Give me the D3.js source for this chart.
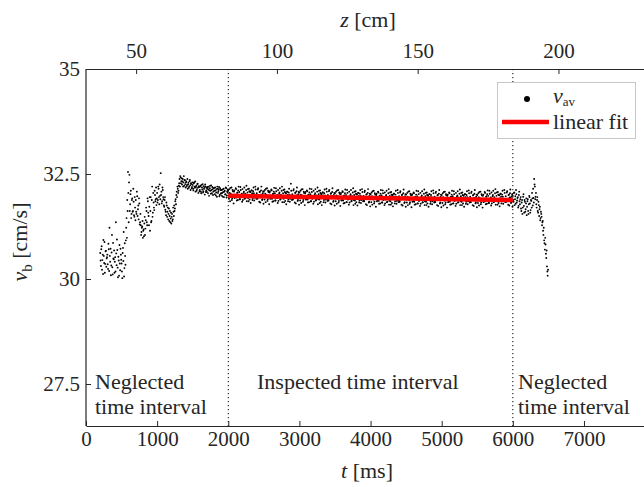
<!DOCTYPE html>
<html>
<head>
<meta charset="utf-8">
<script src="https://cdn.jsdelivr.net/npm/d3@7"></script>
<style>
  body { margin: 0; background: #fff; }
</style>
</head>
<body>
<svg id="chart" width="644" height="487"></svg>
<script>
// sampling times of the measurement (two interleaved sample sets, 10 ms apart each)
const tSample = d3.range(200, 6500, 10);
const tSample2 = d3.range(205, 6500, 10);
// measured bubble velocity v_av [cm/s], one row = 100 ms
const vAv = [
  30.62, 30.31, 30.78, 30.45, 30.12, 30.55, 30.88, 30.36, 30.67, 30.49,
  30.58, 30.24, 30.71, 31.22, 30.41, 30.09, 30.63, 30.28, 30.86, 30.47,
  30.15, 30.52, 31.35, 30.33, 30.69, 30.04, 30.44, 30.81, 30.21, 30.58,
  30.37, 30.02, 30.74, 31.12, 30.26, 30.55, 30.92, 31.45, 31.88, 32.55,
  31.35, 32.48, 31.78, 32.1, 31.55, 31.92, 31.62, 31.84, 31.48, 31.7,
  31.88, 31.55, 31.97, 31.66, 31.42, 31.8, 31.35, 31.28, 31.12, 31.25,
  30.98, 31.18, 31.32, 31.05, 31.4, 31.62, 31.28, 31.85, 31.5, 31.72,
  31.15, 31.95, 31.38, 32.2, 31.58, 31.82, 31.64, 32.0, 31.9, 31.76,
  32.05, 31.88, 32.15, 31.78, 31.98, 32.52, 32.08, 31.85, 32.12, 31.9,
  31.72, 31.95, 31.6, 31.82, 31.48, 31.7, 31.55, 31.38, 31.62, 31.44,
  31.32, 31.55, 31.42, 31.6, 31.75, 31.68, 31.9, 32.0, 31.95, 32.15,
  32.1, 32.28, 32.2, 32.42, 32.33, 32.25, 32.38, 32.3, 32.22, 32.35,
  32.18, 32.32, 32.24, 32.15, 32.29, 32.2, 32.36, 32.12, 32.26, 32.19,
  32.24, 32.11, 32.3, 32.17, 32.08, 32.22, 32.14, 32.27, 32.05, 32.19,
  32.12, 32.22, 32.04, 32.18, 32.26, 32.09, 32.15, 32.01, 32.2, 32.11,
  32.07, 32.19, 32.13, 31.98, 32.16, 32.1, 32.23, 32.04, 32.14, 32.08,
  32.17, 32.02, 32.11, 32.06, 31.96, 32.15, 32.09, 32.19, 32.0, 32.12,
  32.04, 31.98, 32.13, 32.07, 31.95, 32.1, 32.02, 32.16, 31.99, 32.06,
  32.10, 31.91, 32.05, 32.17, 31.97, 31.88, 32.12, 32.00, 32.08, 31.93,
  31.95, 32.14, 31.87, 32.06, 32.11, 31.99, 31.90, 32.19, 31.96, 32.03,
  32.14, 31.97, 32.08, 31.91, 32.03, 32.12, 31.85, 32.06, 31.93, 32.15,
  31.89, 32.07, 32.00, 32.11, 31.88, 32.09, 32.04, 31.94, 32.20, 31.96,
  32.04, 31.91, 32.16, 31.97, 32.07, 31.82, 32.11, 32.01, 31.90, 32.09,
  32.08, 31.89, 32.03, 32.15, 31.95, 31.86, 32.10, 31.98, 32.06, 31.91,
  31.92, 32.11, 31.84, 32.03, 32.08, 31.96, 31.87, 32.16, 31.93, 32.00,
  32.12, 31.95, 32.06, 31.89, 32.01, 32.10, 31.83, 32.04, 31.91, 32.13,
  31.86, 32.04, 31.97, 32.08, 31.85, 32.06, 32.01, 31.91, 32.27, 31.93,
  32.02, 31.89, 32.14, 31.95, 32.05, 31.80, 32.09, 31.99, 31.88, 32.07,
  32.06, 31.87, 32.01, 32.13, 31.93, 31.84, 32.08, 31.96, 32.04, 31.89,
  31.90, 32.09, 31.82, 32.01, 32.06, 31.94, 31.85, 32.14, 31.91, 31.98,
  32.10, 31.93, 32.04, 31.87, 31.99, 32.08, 31.78, 32.02, 31.89, 32.11,
  31.84, 32.02, 31.95, 32.06, 31.83, 32.04, 31.99, 31.89, 32.15, 31.91,
  32.00, 31.87, 32.12, 31.93, 32.03, 31.78, 32.07, 31.97, 31.86, 32.05,
  32.04, 31.85, 31.99, 32.11, 31.91, 31.82, 32.06, 31.94, 32.02, 31.87,
  31.88, 32.07, 31.80, 31.99, 32.04, 31.92, 31.83, 32.12, 31.89, 31.96,
  32.08, 31.91, 32.02, 31.85, 31.97, 32.06, 31.76, 32.00, 31.87, 32.09,
  31.83, 32.01, 31.94, 32.05, 31.82, 32.03, 31.98, 31.88, 32.14, 31.90,
  31.98, 31.85, 32.10, 31.91, 32.01, 31.76, 32.05, 31.95, 31.84, 32.03,
  32.02, 31.83, 31.97, 32.09, 31.89, 31.80, 32.04, 31.92, 32.00, 31.85,
  31.87, 32.06, 31.79, 31.98, 32.03, 31.91, 31.82, 32.11, 31.88, 31.95,
  32.06, 31.89, 32.00, 31.83, 31.95, 32.04, 31.77, 31.98, 31.85, 32.07,
  31.81, 31.99, 31.92, 32.03, 31.80, 32.01, 31.96, 31.86, 32.12, 31.88,
  31.97, 31.84, 32.09, 31.90, 32.00, 31.75, 32.04, 31.94, 31.83, 32.02,
  32.01, 31.82, 31.96, 32.08, 31.88, 31.79, 32.03, 31.91, 31.99, 31.84,
  31.85, 32.04, 31.77, 31.96, 32.01, 31.89, 31.80, 32.09, 31.86, 31.93,
  32.05, 31.88, 31.99, 31.82, 31.94, 32.03, 31.76, 31.97, 31.84, 32.06,
  31.80, 31.98, 31.91, 32.02, 31.79, 32.00, 31.95, 31.85, 32.11, 31.87,
  31.96, 31.83, 32.08, 31.89, 31.99, 31.74, 32.03, 31.93, 31.82, 32.01,
  32.00, 31.81, 31.95, 32.07, 31.87, 31.78, 32.02, 31.90, 31.98, 31.83,
  31.85, 32.04, 31.77, 31.96, 32.01, 31.89, 31.80, 32.09, 31.86, 31.93,
  32.05, 31.88, 31.99, 31.82, 31.94, 32.03, 31.76, 31.97, 31.84, 32.06,
  31.80, 31.98, 31.91, 32.02, 31.79, 32.00, 31.95, 31.85, 32.11, 31.87,
  31.96, 31.83, 32.08, 31.89, 31.99, 31.74, 32.03, 31.93, 31.82, 32.01,
  32.00, 31.81, 31.95, 32.07, 31.87, 31.78, 32.02, 31.90, 31.98, 31.83,
  31.86, 32.05, 31.78, 31.97, 32.02, 31.90, 31.81, 32.10, 31.87, 31.94,
  32.06, 31.89, 32.00, 31.83, 31.95, 32.04, 31.77, 31.98, 31.85, 32.07,
  31.81, 31.99, 31.92, 32.03, 31.80, 32.01, 31.96, 31.86, 32.12, 31.88,
  31.97, 31.84, 32.09, 31.90, 32.00, 31.75, 32.04, 31.94, 31.83, 32.02,
  31.98, 31.84, 32.06, 31.90, 31.79, 32.02, 31.87, 31.95, 31.74, 32.08,
  31.78, 31.95, 31.62, 31.88, 31.70, 32.02, 31.58, 31.84, 31.66, 31.92,
  31.72, 31.90, 31.55, 31.98, 31.80, 31.64, 31.86, 32.05, 31.75, 31.93,
  32.38, 32.2, 31.96, 31.78, 31.88, 31.62, 31.84, 31.5, 31.72, 31.45,
  31.55, 31.28, 31.38, 31.05, 30.92, 30.7, 30.82, 30.5, 30.3, 30.08
];
const vAv2 = [
  30.44, 30.71, 30.22, 30.58, 30.93, 30.38, 30.15, 30.66, 30.29, 30.52,
  30.35, 30.84, 30.19, 30.55, 30.72, 30.32, 31.05, 30.11, 30.49, 30.68,
  30.41, 30.18, 30.61, 30.94, 30.27, 30.53, 30.08, 30.37, 30.72, 30.46,
  30.18, 30.62, 30.43, 30.06, 30.85, 30.34, 31.22, 30.98, 31.62, 32.05,
  32.3, 31.62, 32.02, 31.45, 31.88, 31.6, 32.15, 31.52, 31.95, 31.4,
  31.6, 32.08, 31.5, 31.75, 31.92, 31.3, 31.55, 31.05, 31.22, 31.38,
  31.15, 31.02, 31.48, 31.2, 31.7, 31.35, 31.92, 31.58, 31.28, 31.95,
  31.62, 31.35, 31.88, 31.48, 32.05, 31.7, 32.1, 31.85, 32.18, 31.92,
  31.82, 32.2, 31.95, 32.25, 31.9, 32.0, 31.8, 32.18, 31.95, 31.75,
  31.88, 31.65, 31.52, 31.75, 31.6, 31.42, 31.68, 31.5, 31.35, 31.58,
  31.48, 31.38, 31.7, 31.5, 31.62, 31.85, 31.78, 32.08, 32.2, 32.05,
  32.22, 32.38, 32.45, 32.28, 32.4, 32.32, 32.2, 32.45, 32.36, 32.26,
  32.3, 32.21, 32.38, 32.25, 32.17, 32.33, 32.23, 32.28, 32.16, 32.3,
  32.15, 32.28, 32.2, 32.32, 32.19, 32.1, 32.26, 32.18, 32.21, 32.09,
  32.2, 32.08, 32.24, 32.13, 32.06, 32.21, 32.17, 32.25, 32.07, 32.18,
  32.15, 32.04, 32.2, 32.11, 32.22, 32.03, 32.12, 32.19, 32.0, 32.16,
  32.1, 32.18, 31.99, 32.14, 32.2, 32.05, 32.13, 31.97, 32.16, 32.03,
  32.12, 32.05, 31.96, 32.15, 32.08, 32.01, 32.18, 31.94, 32.09, 32.13,
  31.98, 32.14, 31.85, 32.03, 32.18, 31.92, 32.09, 31.80, 32.11, 32.01,
  32.16, 31.94, 32.05, 31.88, 32.20, 32.07, 31.90, 32.12, 31.97, 31.84,
  31.88, 32.05, 32.18, 31.92, 31.98, 32.22, 31.94, 32.14, 31.85, 32.09,
  32.08, 31.81, 32.11, 32.04, 31.93, 32.18, 31.87, 31.97, 32.13, 31.91,
  31.93, 32.13, 31.97, 31.84, 32.08, 32.01, 32.20, 31.88, 32.04, 31.79,
  31.96, 32.12, 31.83, 32.01, 32.16, 31.90, 32.07, 31.78, 32.09, 31.99,
  32.13, 31.91, 32.02, 31.85, 32.17, 32.04, 31.87, 32.09, 31.94, 31.81,
  31.86, 32.03, 32.16, 31.90, 31.96, 32.20, 31.92, 32.12, 31.83, 32.07,
  32.05, 31.78, 32.08, 32.01, 31.90, 32.15, 31.84, 31.94, 32.10, 31.88,
  31.91, 32.11, 31.95, 31.82, 32.06, 31.99, 32.18, 31.86, 32.02, 31.77,
  31.94, 32.10, 31.81, 31.99, 32.14, 31.88, 32.05, 31.76, 32.07, 31.97,
  32.11, 31.89, 32.00, 31.83, 32.15, 32.02, 31.85, 32.07, 31.92, 31.79,
  31.84, 32.01, 32.14, 31.88, 31.94, 32.18, 31.90, 32.10, 31.81, 32.05,
  32.03, 31.76, 32.06, 31.99, 31.88, 32.13, 31.82, 31.92, 32.08, 31.86,
  31.89, 32.09, 31.93, 31.80, 32.04, 31.97, 32.16, 31.84, 32.00, 31.75,
  31.92, 32.08, 31.79, 31.97, 32.12, 31.86, 32.03, 31.74, 32.05, 31.95,
  32.09, 31.87, 31.98, 31.81, 32.13, 32.00, 31.83, 32.05, 31.90, 31.77,
  31.82, 31.99, 32.12, 31.86, 31.92, 32.16, 31.88, 32.08, 31.79, 32.03,
  32.02, 31.75, 32.05, 31.98, 31.87, 32.12, 31.81, 31.91, 32.07, 31.85,
  31.87, 32.07, 31.91, 31.78, 32.02, 31.95, 32.14, 31.82, 31.98, 31.73,
  31.90, 32.06, 31.77, 31.95, 32.10, 31.84, 32.01, 31.72, 32.03, 31.93,
  32.08, 31.86, 31.97, 31.80, 32.12, 31.99, 31.82, 32.04, 31.89, 31.76,
  31.80, 31.97, 32.10, 31.84, 31.90, 32.14, 31.86, 32.06, 31.77, 32.01,
  32.00, 31.73, 32.03, 31.96, 31.85, 32.10, 31.79, 31.89, 32.05, 31.83,
  31.86, 32.06, 31.90, 31.77, 32.01, 31.94, 32.13, 31.81, 31.97, 31.72,
  31.89, 32.05, 31.76, 31.94, 32.09, 31.83, 32.00, 31.71, 32.02, 31.92,
  32.06, 31.84, 31.95, 31.78, 32.10, 31.97, 31.80, 32.02, 31.87, 31.74,
  31.79, 31.96, 32.09, 31.83, 31.89, 32.13, 31.85, 32.05, 31.76, 32.00,
  31.99, 31.72, 32.02, 31.95, 31.84, 32.09, 31.78, 31.88, 32.04, 31.82,
  31.85, 32.05, 31.89, 31.76, 32.00, 31.93, 32.12, 31.80, 31.96, 31.71,
  31.88, 32.04, 31.75, 31.93, 32.08, 31.82, 31.99, 31.70, 32.01, 31.91,
  32.06, 31.84, 31.95, 31.78, 32.10, 31.97, 31.80, 32.02, 31.87, 31.74,
  31.79, 31.96, 32.09, 31.83, 31.89, 32.13, 31.85, 32.05, 31.76, 32.00,
  31.99, 31.72, 32.02, 31.95, 31.84, 32.09, 31.78, 31.88, 32.04, 31.82,
  31.85, 32.05, 31.89, 31.76, 32.00, 31.93, 32.12, 31.80, 31.96, 31.71,
  31.88, 32.04, 31.75, 31.93, 32.08, 31.82, 31.99, 31.70, 32.01, 31.91,
  32.07, 31.85, 31.96, 31.79, 32.11, 31.98, 31.81, 32.03, 31.88, 31.75,
  31.80, 31.97, 32.10, 31.84, 31.90, 32.14, 31.86, 32.06, 31.77, 32.01,
  32.00, 31.73, 32.03, 31.96, 31.85, 32.10, 31.79, 31.89, 32.05, 31.83,
  31.86, 32.06, 31.90, 31.77, 32.01, 31.94, 32.13, 31.81, 31.97, 31.72,
  31.88, 32.05, 31.76, 31.97, 32.12, 31.82, 31.93, 31.70, 32.0, 31.85,
  31.9, 31.68, 31.82, 31.55, 31.96, 31.74, 31.88, 31.6, 31.8, 31.52,
  31.85, 31.62, 31.78, 31.95, 31.58, 31.88, 31.7, 31.92, 32.15, 31.82,
  32.25, 31.9, 32.05, 31.7, 31.95, 31.58, 31.76, 31.66, 31.4, 31.6,
  31.48, 31.35, 31.15, 31.22, 30.85, 30.98, 30.6, 30.68, 30.18, 30.22
];
// linear fit over the inspected interval
const fitT = [2000, 6000];
const fitV = [31.98, 31.88];
// interval boundaries
const boundT = [2000, 6000];
const xTicks = [0, 1000, 2000, 3000, 4000, 5000, 6000, 7000];
const yTicks = [27.5, 30, 32.5, 35];
const zTicks = [50, 100, 150, 200];

const svg = d3.select('#chart');
const mLeft = 86, mRight = 648, mTop = 69, mBottom = 426;
const axisColor = '#262626';
const serif = '"Liberation Serif", "DejaVu Serif", serif';

const x = d3.scaleLinear().domain([0, 7900]).range([mLeft, mRight]);
const y = d3.scaleLinear().domain([26.5, 35]).range([mBottom, mTop]);
// position along the channel, same pixel span as t
const z = d3.scaleLinear().domain([32.2, 231.8]).range([mLeft, mRight]);

const points = tSample.map((t, i) => ({ t, v: vAv[i] }))
  .concat(tSample2.map((t, i) => ({ t, v: vAv2[i] })));

// dotted interval bounds
svg.append('g').selectAll('line').data(boundT).join('line')
  .attr('x1', d => x(d)).attr('x2', d => x(d))
  .attr('y1', mTop).attr('y2', mBottom)
  .attr('stroke', '#000').attr('stroke-width', 1)
  .attr('stroke-dasharray', '1.2,2.8');

// scatter
svg.append('g').selectAll('circle').data(points).join('circle')
  .attr('cx', d => x(d.t)).attr('cy', d => y(d.v))
  .attr('r', 0.95).attr('fill', '#000');

// linear fit
const line = d3.line().x(d => x(d[0])).y(d => y(d[1]));
svg.append('path')
  .datum(fitT.map((t, i) => [t, fitV[i]]))
  .attr('d', line)
  .attr('stroke', '#ff0000').attr('stroke-width', 4.5)
  .attr('fill', 'none');

// axes, ticks inside like matlab
const fontSize = 21;
const axB = svg.append('g').attr('transform', `translate(0,${mBottom})`)
  .call(d3.axisBottom(x).tickValues(xTicks).tickFormat(d3.format('d'))
    .tickSizeInner(-5).tickSizeOuter(0).tickPadding(5));
const axL = svg.append('g').attr('transform', `translate(${mLeft},0)`)
  .call(d3.axisLeft(y).tickValues(yTicks).tickFormat(d3.format(''))
    .tickSizeInner(-5).tickSizeOuter(0).tickPadding(6));
const axT = svg.append('g').attr('transform', `translate(0,${mTop})`)
  .call(d3.axisTop(z).tickValues(zTicks).tickSizeInner(-5).tickSizeOuter(0).tickPadding(11));
[axB, axL, axT].forEach(g => {
  g.select('.domain').attr('stroke', axisColor).attr('stroke-width', 1.2);
  g.selectAll('.tick line').attr('stroke', axisColor);
  g.selectAll('.tick text').attr('font-size', fontSize).attr('fill', axisColor);
});
axL.select('.domain').attr('d', `M0,${mTop}V${mBottom}`);

// axis titles
const lbl = (tx, ty, rot) => svg.append('text')
  .attr('transform', `translate(${tx},${ty}) rotate(${rot})`)
  .attr('text-anchor', 'middle').attr('font-size', 22);

const zl = lbl(368, 27, 0);
zl.append('tspan').attr('font-style', 'italic').text('z');
zl.append('tspan').text(' [cm]');

const tl = lbl(367, 478, 0);
tl.append('tspan').attr('font-style', 'italic').text('t');
tl.append('tspan').text(' [ms]');

const vl = lbl(27, 242, -90);
vl.append('tspan').attr('font-style', 'italic').text('v');
vl.append('tspan').attr('font-size', 15).attr('dy', 5).text('b');
vl.append('tspan').attr('dy', -5).text(' [cm/s]');

// interval notes
const notes = [
  { x: 95, y: 389, s: 'Neglected' },
  { x: 95, y: 414, s: 'time interval' },
  { x: 257, y: 389, s: 'Inspected time interval' },
  { x: 518, y: 389, s: 'Neglected' },
  { x: 518, y: 414, s: 'time interval' }
];
svg.append('g').selectAll('text').data(notes).join('text')
  .attr('x', d => d.x).attr('y', d => d.y)
  .attr('font-size', 22).text(d => d.s);

// legend
const lg = svg.append('g');
lg.append('rect').attr('x', 497.5).attr('y', 82.5).attr('width', 138).attr('height', 56)
  .attr('fill', '#fff').attr('stroke', '#c8c8c8').attr('stroke-width', 1);
lg.append('circle').attr('cx', 527).attr('cy', 99).attr('r', 3).attr('fill', '#000');
const lv = lg.append('text').attr('x', 553).attr('y', 103).attr('font-size', 22);
lv.append('tspan').attr('font-style', 'italic').text('v');
lv.append('tspan').attr('font-size', 13).attr('dy', 3).text('av');
lg.append('line').attr('x1', 502).attr('x2', 549).attr('y1', 122).attr('y2', 122)
  .attr('stroke', '#ff0000').attr('stroke-width', 4.5);
lg.append('text').attr('x', 553).attr('y', 129).attr('font-size', 22).text('linear fit');

// all text in a serif face, like the latex output
svg.selectAll('text').style('font-family', serif).style('fill', axisColor);
</script>
</body>
</html>
